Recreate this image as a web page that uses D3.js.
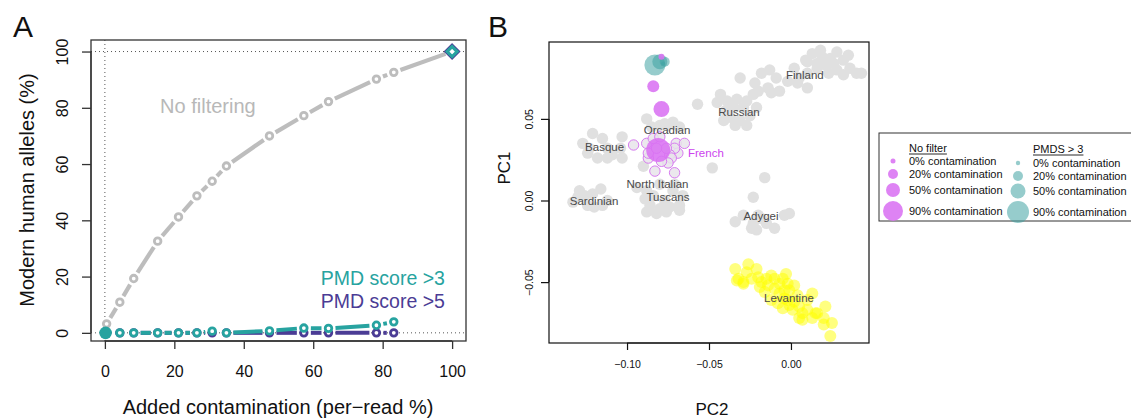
<!DOCTYPE html>
<html><head><meta charset="utf-8">
<script src="https://cdn.jsdelivr.net/npm/d3@7"></script>
<style>body{margin:0;background:#fff}svg{display:block}text{font-family:"Liberation Sans",Arial,Helvetica,sans-serif}</style>
</head><body><svg id="c" width="1131" height="418"></svg>
<script>
// ---------- Panel A data ----------
const contamination = [0, 0.5, 4.3, 8.3, 15.2, 21.2, 26.5, 30.9, 35, 47.4, 57.3, 64.4, 78.2, 83.2, 100];
const noFiltering  = [0, 3.2, 10.9, 19.3, 32.6, 41.2, 48.7, 53.9, 59.3, 70, 77.2, 82.2, 90.2, 92.6, 100];
const pmdContam = [0, 0.5, 4.3, 8.3, 15.2, 21.2, 26.5, 30.9, 35, 47.4, 57.3, 64.4, 78.2, 83.2];
const pmd3 = [0, 0, 0, 0, 0, 0, 0, 0.6, 0, 0.7, 1.7, 1.6, 2.7, 3.9];
const pmd5 = [0, 0, 0, 0, 0, 0, 0, 0, 0, 0, 0, 0, 0, 0];
const pureContaminant = [100, 100];
const xTicksA = [0, 20, 40, 60, 80, 100];
const yTicksA = [0, 20, 40, 60, 80, 100];

// ---------- Panel B data (PC2, PC1) ----------
const grayPoints = [
 // Finland
 [0.013,0.090],[0.019,0.088],[0.028,0.091],[0.024,0.087],[0.016,0.084],[0.010,0.085],[0.021,0.083],[0.026,0.084],
 [0.032,0.086],[0.036,0.081],[0.040,0.078],[0.043,0.078],[0.032,0.077],[0.028,0.080],[0.023,0.078],[0.016,0.081],
 [0.010,0.078],[0.005,0.075],[0.004,0.072],[0.010,0.069],[-0.002,0.073],[-0.009,0.075],[-0.013,0.080],[-0.018,0.078],
 [-0.014,0.069],[-0.012,0.066],[-0.007,0.067],[-0.022,0.072],[-0.020,0.067],[-0.031,0.075],[0.002,0.081],[0.035,0.089],
 [0.018,0.092],[0.009,0.086],
 // Russian
 [-0.043,0.065],[-0.045,0.060],[-0.039,0.061],[-0.033,0.062],[-0.027,0.061],[-0.023,0.065],[-0.029,0.057],[-0.035,0.057],
 [-0.040,0.055],[-0.037,0.051],[-0.031,0.049],[-0.025,0.052],[-0.041,0.049],[-0.027,0.046],[-0.034,0.046],[-0.057,0.059],
 [-0.021,0.057],
 // scattered
 [-0.048,0.020],[-0.016,0.014],[-0.023,0.002],
 // Adygei
 [-0.034,-0.013],[-0.029,-0.009],[-0.023,-0.014],[-0.021,-0.018],[-0.024,-0.017],[-0.015,-0.014],[-0.010,-0.017],
 [-0.004,-0.009],[-0.001,-0.008],[-0.018,-0.011],[-0.020,-0.009],
 // Orcadian
 [-0.088,0.050],[-0.080,0.046],[-0.075,0.046],[-0.085,0.045],[-0.072,0.048],[-0.068,0.045],[-0.077,0.047],[-0.090,0.021],
 // Basque
 [-0.121,0.041],[-0.115,0.038],[-0.103,0.039],[-0.123,0.032],[-0.112,0.032],[-0.104,0.032],[-0.112,0.026],[-0.103,0.026],
 [-0.127,0.035],[-0.118,0.026],[-0.109,0.028],[-0.124,0.029],
 // Sardinian
 [-0.116,0.007],[-0.121,0.004],[-0.126,0.003],[-0.130,0.002],[-0.124,-0.003],[-0.115,-0.003],[-0.112,0.000],
 [-0.133,-0.001],[-0.120,-0.004],[-0.129,0.006],
 // North Italian / Tuscans
 [-0.094,0.008],[-0.088,0.006],[-0.089,0.001],[-0.086,-0.003],[-0.080,-0.005],[-0.074,-0.004],[-0.068,-0.003],
 [-0.066,0.003],[-0.072,0.006],[-0.084,0.003],[-0.077,0.000],[-0.082,-0.008],[-0.088,-0.007],[-0.076,-0.007],
 [-0.068,-0.006],[-0.080,0.010],[-0.071,0.010]
];
const frenchPoints = [
 [-0.096,0.034],[-0.088,0.035],[-0.084,0.038],[-0.080,0.039],[-0.070,0.035],[-0.065,0.035],[-0.069,0.029],[-0.071,0.032],
 [-0.074,0.028],[-0.073,0.026],[-0.075,0.023],[-0.087,0.026],[-0.083,0.018],[-0.071,0.017],[-0.076,0.032],[-0.087,0.029],
 [-0.082,0.032],[-0.079,0.024]
];
const levantinePoints = [
 [-0.034,-0.042],[-0.026,-0.039],[-0.027,-0.044],[-0.021,-0.042],[-0.032,-0.048],[-0.029,-0.051],[-0.024,-0.048],
 [-0.020,-0.047],[-0.018,-0.050],[-0.015,-0.048],[-0.012,-0.046],[-0.010,-0.048],[-0.014,-0.052],[-0.016,-0.056],
 [-0.010,-0.054],[-0.007,-0.051],[-0.003,-0.045],[-0.005,-0.048],[-0.002,-0.051],[0.002,-0.052],[-0.001,-0.055],
 [-0.007,-0.057],[-0.004,-0.060],[-0.008,-0.063],[-0.005,-0.066],[-0.001,-0.064],[0.001,-0.067],[0.005,-0.065],
 [0.007,-0.069],[0.010,-0.067],[0.005,-0.072],[0.007,-0.073],[0.013,-0.057],[0.015,-0.069],[0.016,-0.069],
 [0.013,-0.072],[0.020,-0.072],[0.021,-0.065],[0.025,-0.075],[0.020,-0.076],[0.024,-0.083],[0.010,-0.061],
 [-0.012,-0.061],[-0.019,-0.053],[-0.029,-0.050],[-0.033,-0.049],[0.004,-0.058],[-0.002,-0.061],[0.002,-0.062],[-0.004,-0.055]
];
const contamLevels = ["0%", "20%", "50%", "90%"];
const noFilterPos = [[-0.079,0.088],[-0.084,0.070],[-0.079,0.056],[-0.081,0.031]];
const pmdsPos = [[-0.078,0.084],[-0.077,0.085],[-0.080,0.085],[-0.083,0.083]];
const noFilterRadius = [3, 6, 8, 12];
const pmdsRadius = [2, 5, 7.5, 10.5];
const legendRadiusNF = [2.5, 5, 7, 10];
const legendRadiusP = [2.2, 5, 7.5, 11];
const popLabels = ["Finland","Russian","Orcadian","Basque","North Italian","Tuscans","Sardinian","Adygei","Levantine"];
const popLabelPos = [[0.0085,0.077],[-0.0317,0.054],[-0.0756,0.0435],[-0.1137,0.033],[-0.0814,0.0104],[-0.075,0.0024],[-0.1201,0.0],[-0.0183,-0.0092],[-0.0012,-0.060]];
const frenchLabelPos = [-0.0628, 0.0294];
const xTicksB = [-0.10, -0.05, 0.00];
const yTicksB = [-0.05, 0.00, 0.05];

// ---------- colours ----------
const GRAY = "#bdbdbd", TEAL = "#27a3a0", PURPLE = "#4b3c95";
const MAG = "#da72f2", TEALB = "#3fa3a3";

const svg = d3.select("#c");
svg.append("rect").attr("width",1131).attr("height",418).attr("fill","#fff");

// ================= Panel A =================
const xA = d3.scaleLinear().domain([-4, 104]).range([91, 466]);
const yA = d3.scaleLinear().domain([-2.9, 104.1]).range([341, 40]);
const gA = svg.append("g");

gA.append("line").attr("x1",xA(0)).attr("x2",xA(0)).attr("y1",yA(-2.9)).attr("y2",yA(104.1))
  .attr("stroke","#555").attr("stroke-width",1).attr("stroke-dasharray","1,3");
[0,100].forEach(v => gA.append("line").attr("x1",xA(-4)).attr("x2",xA(104)).attr("y1",yA(v)).attr("y2",yA(v))
  .attr("stroke","#555").attr("stroke-width",1).attr("stroke-dasharray","1,3"));

function gappedLine(g, xs, ys, color, width, gap) {
  for (let i = 0; i < xs.length - 1; i++) {
    const x1 = xA(xs[i]), y1 = yA(ys[i]), x2 = xA(xs[i+1]), y2 = yA(ys[i+1]);
    const L = Math.hypot(x2-x1, y2-y1);
    if (L <= 2*gap + 1) continue;
    const ux = (x2-x1)/L, uy = (y2-y1)/L;
    g.append("line").attr("x1", x1+ux*gap).attr("y1", y1+uy*gap).attr("x2", x2-ux*gap).attr("y2", y2-uy*gap)
      .attr("stroke", color).attr("stroke-width", width).attr("stroke-linecap","butt");
  }
}
function ringPoints(g, xs, ys, color) {
  g.selectAll(null).data(xs.map((x,i)=>[x,ys[i]])).join("circle")
    .attr("cx", d=>xA(d[0])).attr("cy", d=>yA(d[1])).attr("r", 3.3)
    .attr("fill","#fff").attr("stroke",color).attr("stroke-width",2.8);
}
gappedLine(gA, contamination, noFiltering, GRAY, 4.2, 7);
ringPoints(gA, contamination, noFiltering, GRAY);
gappedLine(gA, pmdContam, pmd5, PURPLE, 4, 7);
ringPoints(gA, pmdContam, pmd5, PURPLE);
gappedLine(gA, pmdContam, pmd3, TEAL, 4, 7);
ringPoints(gA, pmdContam, pmd3, TEAL);
gA.append("circle").attr("cx",xA(0.2)).attr("cy",yA(0)).attr("r",6.3).attr("fill",TEAL);
{
  const cx = xA(pureContaminant[0]), cy = yA(pureContaminant[1]);
  const dpath = s => `M${cx},${cy-s}L${cx+s},${cy}L${cx},${cy+s}L${cx-s},${cy}Z`;
  gA.append("path").attr("d", dpath(7.2)).attr("fill","none").attr("stroke",PURPLE).attr("stroke-width",1.8);
  gA.append("path").attr("d", dpath(5)).attr("fill","#fff").attr("stroke",TEAL).attr("stroke-width",3.2);
  gA.append("circle").attr("cx",cx).attr("cy",cy).attr("r",1.3).attr("fill","#fff");
}
gA.append("rect").attr("x",91).attr("y",40).attr("width",375).attr("height",301)
  .attr("fill","none").attr("stroke","#333").attr("stroke-width",1.3);
const axXA = gA.append("g").attr("transform","translate(0,341)")
  .call(d3.axisBottom(xA).tickValues(xTicksA).tickSize(8).tickFormat(d3.format("d")));
axXA.select(".domain").remove();
axXA.append("line").attr("x1",xA(0)).attr("x2",xA(100)).attr("stroke","#333").attr("stroke-width",1.3);
axXA.selectAll(".tick line").attr("stroke","#333").attr("stroke-width",1.3);
axXA.selectAll(".tick text").attr("y",36).attr("dy",0).attr("font-size",16).attr("fill","#111")
  .attr("font-family",'"Liberation Sans",Arial,sans-serif');
const axYA = gA.append("g").attr("transform","translate(91,0)")
  .call(d3.axisLeft(yA).tickValues(yTicksA).tickSize(9).tickFormat(d3.format("d")));
axYA.select(".domain").remove();
axYA.append("line").attr("y1",yA(0)).attr("y2",yA(100)).attr("stroke","#333").attr("stroke-width",1.3);
axYA.selectAll(".tick line").attr("stroke","#333").attr("stroke-width",1.3);
axYA.selectAll(".tick text").attr("x",0).attr("dy",0).attr("transform","translate(-23,0) rotate(-90)")
  .attr("text-anchor","middle").attr("font-size",16).attr("fill","#111")
  .attr("font-family",'"Liberation Sans",Arial,sans-serif');
gA.append("text").attr("x",xA(15.9)).attr("y",yA(78.1)).text("No filtering").attr("fill","#b8b8b8").attr("font-size",20);
gA.append("text").attr("x",xA(62.2)).attr("y",yA(17)).text("PMD score >3").attr("fill",TEAL).attr("font-size",19.5);
gA.append("text").attr("x",xA(62.2)).attr("y",yA(8.8)).text("PMD score >5").attr("fill",PURPLE).attr("font-size",19.5);
svg.append("text").attr("x",278).attr("y",414).attr("text-anchor","middle").attr("font-size",20).attr("fill","#111")
  .text("Added contamination (per\u2212read %)");
svg.append("text").attr("transform","translate(34,190) rotate(-90)").attr("text-anchor","middle").attr("font-size",20).attr("fill","#111")
  .text("Modern human alleles (%)");
svg.append("text").attr("x",13).attr("y",37).attr("font-size",30).attr("fill","#111").text("A");

// ================= Panel B =================
const xB = d3.scaleLinear().domain([-0.1476, 0.0476]).range([549, 869]);
const yB = d3.scaleLinear().domain([-0.0873, 0.0971]).range([343, 42]);
const gB = svg.append("g");

gB.selectAll(null).data(grayPoints).join("circle")
  .attr("cx",d=>xB(d[0])).attr("cy",d=>yB(d[1])).attr("r",5.7).attr("fill","#e0e0e0");
gB.selectAll(null).data(frenchPoints).join("circle")
  .attr("cx",d=>xB(d[0])).attr("cy",d=>yB(d[1])).attr("r",5.2).attr("fill","#e8e4ea").attr("fill-opacity",0.85)
  .attr("stroke","#d77cf0").attr("stroke-width",1);
gB.selectAll(null).data(levantinePoints).join("circle")
  .attr("cx",d=>xB(d[0])).attr("cy",d=>yB(d[1])).attr("r",6).attr("fill","#ffff00").attr("fill-opacity",0.5);
gB.selectAll(null).data(pmdsPos.map((p,i)=>({p, r: pmdsRadius[i]})).slice().reverse()).join("circle")
  .attr("cx",d=>xB(d.p[0])).attr("cy",d=>yB(d.p[1])).attr("r",d=>d.r).attr("fill",TEALB).attr("fill-opacity",0.55);
gB.selectAll(null).data(noFilterPos.map((p,i)=>({p, r: noFilterRadius[i]}))).join("circle")
  .attr("cx",d=>xB(d.p[0])).attr("cy",d=>yB(d.p[1])).attr("r",d=>d.r).attr("fill",MAG).attr("fill-opacity",0.88);

gB.selectAll(null).data(popLabels).join("text")
  .attr("x",(d,i)=>xB(popLabelPos[i][0])).attr("y",(d,i)=>yB(popLabelPos[i][1])).attr("dy","0.35em")
  .attr("text-anchor","middle").attr("font-size",11.5).attr("fill","#4a4a4a").text(d=>d);
gB.append("text").attr("x",xB(frenchLabelPos[0])).attr("y",yB(frenchLabelPos[1])).attr("dy","0.35em")
  .attr("font-size",11.5).attr("fill","#cc44ee").text("French");

gB.append("rect").attr("x",549).attr("y",42).attr("width",320).attr("height",301)
  .attr("fill","none").attr("stroke","#111").attr("stroke-width",1.2);
const fmtB = d3.format(".2f");
const axXB = gB.append("g").attr("transform","translate(0,343)")
  .call(d3.axisBottom(xB).tickValues(xTicksB).tickSize(7).tickFormat(fmtB));
axXB.select(".domain").remove();
axXB.append("line").attr("x1",xB(-0.10)).attr("x2",xB(0)).attr("stroke","#111").attr("stroke-width",1.2);
axXB.selectAll(".tick line").attr("stroke","#111").attr("stroke-width",1.2);
axXB.selectAll(".tick text").attr("y",25).attr("dy",0).attr("font-size",10.5).attr("fill","#111")
  .attr("font-family",'"Liberation Sans",Arial,sans-serif');
const axYB = gB.append("g").attr("transform","translate(549,0)")
  .call(d3.axisLeft(yB).tickValues(yTicksB).tickSize(8).tickFormat(fmtB));
axYB.select(".domain").remove();
axYB.append("line").attr("y1",yB(-0.05)).attr("y2",yB(0.05)).attr("stroke","#111").attr("stroke-width",1.2);
axYB.selectAll(".tick line").attr("stroke","#111").attr("stroke-width",1.2);
axYB.selectAll(".tick text").attr("x",0).attr("dy",0).attr("transform","translate(-16,0) rotate(-90)")
  .attr("text-anchor","middle").attr("font-size",10.5).attr("fill","#111")
  .attr("font-family",'"Liberation Sans",Arial,sans-serif');
svg.append("text").attr("x",712).attr("y",415).attr("text-anchor","middle").attr("font-size",17).attr("fill","#111").text("PC2");
svg.append("text").attr("transform","translate(510,168) rotate(-90)").attr("text-anchor","middle").attr("font-size",17).attr("fill","#111").text("PC1");
svg.append("text").attr("x",488).attr("y",37).attr("font-size",30).attr("fill","#111").text("B");

// ---------- legend ----------
const lg = svg.append("g");
lg.append("rect").attr("x",879).attr("y",133).attr("width",270).attr("height",88).attr("fill","#fff")
  .attr("stroke","#333").attr("stroke-width",1);
const rowsNF = [161, 174, 190, 211];
const rowsP = [163, 176, 191, 212];
function legendCol(title, cx, tx, titleY, rows, radii, color, op) {
  const t = lg.append("text").attr("x",tx).attr("y",titleY).attr("dy","0.35em").attr("font-size",11).attr("fill","#111").text(title);
  const w = t.node().getComputedTextLength();
  lg.append("line").attr("x1",tx).attr("x2",tx+w).attr("y1",titleY+6).attr("y2",titleY+6).attr("stroke","#111").attr("stroke-width",0.9);
  contamLevels.forEach((lv,i) => {
    lg.append("circle").attr("cx",cx).attr("cy",rows[i]).attr("r",radii[i]).attr("fill",color).attr("fill-opacity",op);
    lg.append("text").attr("x",tx).attr("y",rows[i]).attr("dy","0.35em").attr("font-size",11).attr("fill","#111")
      .text(lv + " contamination");
  });
}
legendCol("No filter", 893, 909, 148, rowsNF, legendRadiusNF, MAG, 0.88);
legendCol("PMDS > 3", 1018, 1033, 149, rowsP, legendRadiusP, TEALB, 0.55);
</script></body></html>
